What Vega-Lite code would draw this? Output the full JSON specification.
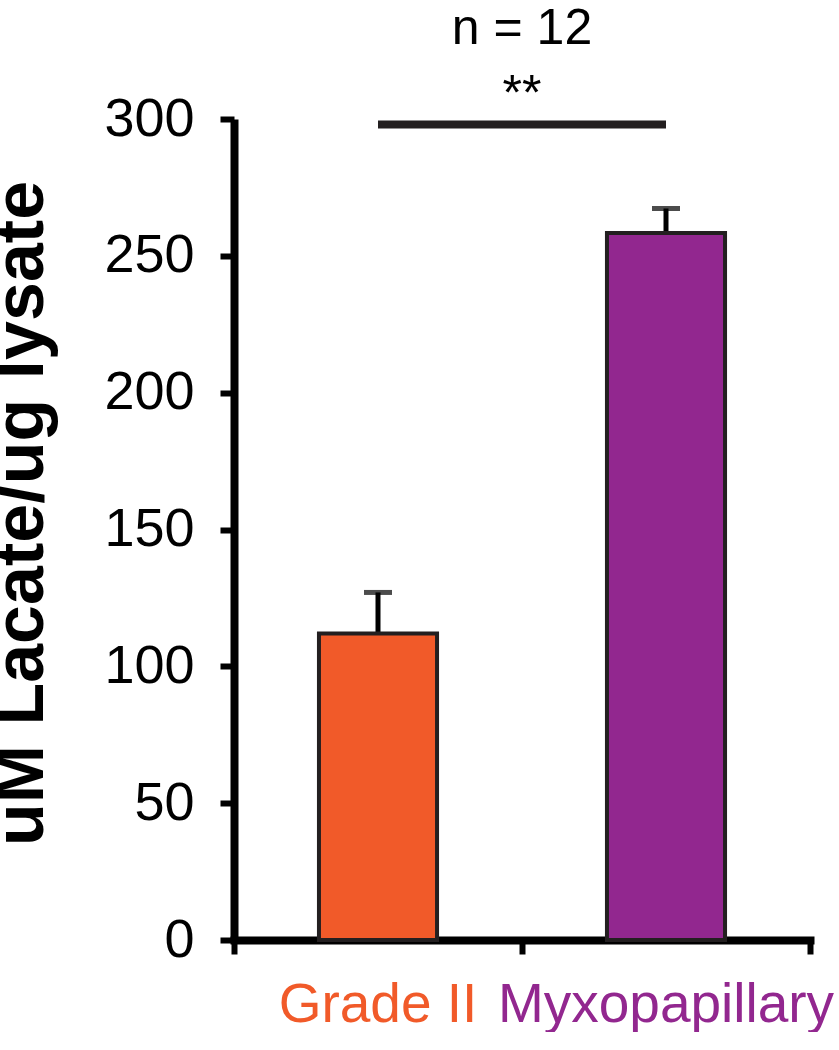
{
  "$schema": "https://vega.github.io/schema/vega-lite/v6.json",
  "width": 576,
  "height": 821,
  "padding": {"left": -14, "top": 4, "right": 0, "bottom": 0},
  "background": "white",
  "config": {
    "view": {"stroke": null},
    "font": "Liberation Sans"
  },
  "title": {
    "text": "n = 12",
    "subtitle": "**",
    "fontSize": 50,
    "fontWeight": "normal",
    "subtitleFontSize": 50,
    "font": "Liberation Sans",
    "subtitleFont": "Liberation Sans",
    "color": "black",
    "subtitleColor": "black",
    "anchor": "middle",
    "frame": "group",
    "subtitlePadding": 16,
    "offset": -28
  },
  "datasets": {
    "bars": [
      {"group": "Grade II", "mean": 112, "upper": 127},
      {"group": "Myxopapillary", "mean": 258.3, "upper": 267.3}
    ],
    "sig": [
      {"from": "Grade II", "to": "Myxopapillary", "level": 298}
    ]
  },
  "encoding": {
    "x": {
      "field": "group",
      "type": "nominal",
      "scale": {"domain": ["Grade II", "Myxopapillary"], "paddingInner": 0, "paddingOuter": 0},
      "axis": {
        "title": null,
        "labelAngle": 0,
        "labelFontSize": 55,
        "labelFont": "Liberation Sans",
        "labelPadding": 24,
        "labelLimit": 0,
        "labelOverlap": false,
        "labelColor": {"condition": {"test": "datum.value == 'Grade II'", "value": "#f15a29"}, "value": "#92278f"},
        "domainColor": "black",
        "domainWidth": 8,
        "tickColor": "black",
        "tickWidth": 6,
        "tickSize": 14,
        "bandPosition": 1,
        "tickExtra": true,
        "domainCap": "square"
      }
    },
    "y": {
      "field": "mean",
      "type": "quantitative",
      "scale": {"domain": [0, 300], "nice": false},
      "axis": {
        "title": "uM Lacate/ug lysate",
        "titleFontSize": 70,
        "titleFont": "Liberation Sans",
        "titleFontWeight": "bold",
        "titleColor": "black",
        "titlePadding": 46,
        "titleLimit": 0,
        "titleY": 394,
        "values": [0, 50, 100, 150, 200, 250, 300],
        "labelFontSize": 54,
        "labelFont": "Liberation Sans",
        "labelColor": "black",
        "labelPadding": 26,
        "domainColor": "black",
        "domainWidth": 8,
        "tickColor": "black",
        "tickWidth": 6,
        "tickSize": 14,
        "grid": false
      }
    }
  },
  "layer": [
    {
      "data": {"name": "bars"},
      "mark": {"type": "rule", "strokeWidth": 5, "color": "black"},
      "encoding": {
        "y": {"field": "mean", "type": "quantitative"},
        "y2": {"field": "upper"}
      }
    },
    {
      "data": {"name": "bars"},
      "mark": {"type": "tick", "thickness": 5, "size": 28, "color": "black", "orient": "horizontal"},
      "encoding": {
        "y": {"field": "upper", "type": "quantitative"}
      }
    },
    {
      "data": {"name": "bars"},
      "mark": {"type": "bar", "stroke": "#231f20", "strokeWidth": 4, "width": {"band": 0.41}},
      "encoding": {
        "color": {
          "field": "group",
          "type": "nominal",
          "scale": {"domain": ["Grade II", "Myxopapillary"], "range": ["#f15a29", "#92278f"]},
          "legend": null
        }
      }
    },
    {
      "data": {"name": "sig"},
      "mark": {"type": "rule", "strokeWidth": 8, "color": "#231f20"},
      "encoding": {
        "x": {"field": "from", "type": "nominal"},
        "x2": {"field": "to"},
        "y": {"field": "level", "type": "quantitative"}
      }
    }
  ]
}
